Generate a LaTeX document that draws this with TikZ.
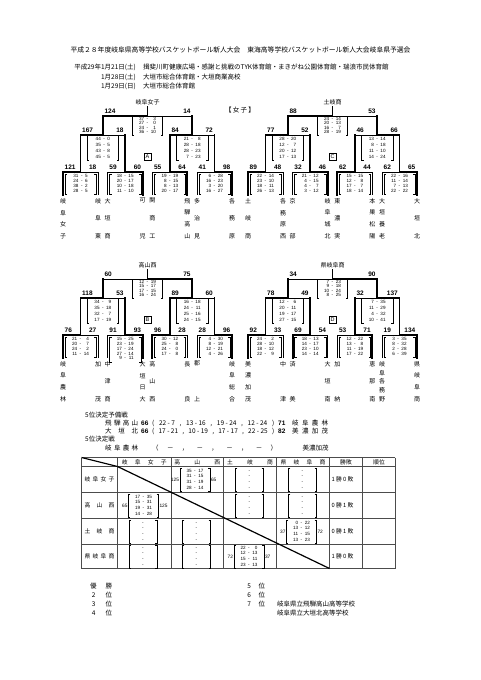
\documentclass[tikz,border=0pt]{standalone}
\usepackage{fontspec}
\setmainfont{Liberation Sans}
\newfontfamily\jp{Noto Sans CJK JP}
\usetikzlibrary{positioning}

% score block with square brackets
\newcommand{\scoreat}[4][score]{%
  \node[#1] (#2) at (#3) {\begin{tabular}{@{}r@{\hspace{2.5pt}-\hspace{2.5pt}}r@{}}#4\end{tabular}};
  \draw[brk] ([xshift=2pt]#2.north west) -| (#2.south west) -- ++(2pt,0)
             ([xshift=-2pt]#2.north east) -| (#2.south east) -- ++(-2pt,0);
}
% one game: winner half thick
\newcommand{\match}[5]{%
  \if#5L
    \draw[win] (#1,#3) -- ({(#1+#2)/2},#3);
    \draw[lose] ({(#1+#2)/2},#3) -- (#2,#3);
  \else
    \draw[lose] (#1,#3) -- ({(#1+#2)/2},#3);
    \draw[win] ({(#1+#2)/2},#3) -- (#2,#3);
  \fi
  \draw[win] ({(#1+#2)/2},#3) -- ({(#1+#2)/2},#4);
}
\newcommand{\legs}[3]{%
  \if#3L
    \draw[win] (#1,172) -- (#1,195); \draw[lose] (#2,172) -- (#2,195);
  \else
    \draw[lose] (#1,172) -- (#1,195); \draw[win] (#2,172) -- (#2,195);
  \fi
}
\newcommand{\drawbracket}[7]{%
  \legs{63}{98}{#1}\legs{107.7}{142.7}{#2}\legs{152.4}{187.4}{#3}\legs{197}{232}{#4}
  \match{63}{98}{172}{135}{#1}\match{107.7}{142.7}{172}{135}{#2}
  \match{152.4}{187.4}{172}{135}{#3}\match{197}{232}{172}{135}{#4}
  \match{80.5}{125.2}{135}{116}{#5}\match{169.9}{214.5}{135}{116}{#6}
  \match{102.85}{192.2}{116}{107}{#7}
}
\newcommand{\leaflabels}[9]{%
  \node[labl] (#1-n1) at (64.5,170) {#2};
  \node[labr] (#1-n2) at (96.5,170) {#3};
  \node[labl] (#1-n3) at (109.2,170) {#4};
  \node[labr] (#1-n4) at (141.2,170) {#5};
  \node[labl] (#1-n5) at (153.9,170) {#6};
  \node[labr] (#1-n6) at (185.9,170) {#7};
  \node[labl] (#1-n7) at (198.5,170) {#8};
  \node[labr] (#1-n8) at (230.5,170) {#9};
}
\newcommand{\upperlabels}[7]{%
  \node[labl] (#1-s1) at (82,133) {#2};
  \node[labr] (#1-s2) at (123.7,133) {#3};
  \node[labl] (#1-s3) at (171.4,133) {#4};
  \node[labr] (#1-s4) at (213,133) {#5};
  \node[labl] (#1-f1) at (104.4,114) {#6};
  \node[labr] (#1-f2) at (190.7,114) {#7};
}
% team name written top to bottom
\newcommand{\vname}[1]{\vbox to 40pt{\offinterlineskip
  \foreach \chr [count=\kk] in {#1}{\ifnum\kk>1 \vfill\fi\hbox to 7pt{\hss\chr\hss}}}}
\newcommand{\teams}[9]{%
  \node[team] (#1-t1) at (63,198) {\vname{#2}};
  \node[team] (#1-t2) at (98,198) {\vname{#3}};
  \node[team] (#1-t3) at (107.7,198) {\vname{#4}};
  \node[team] (#1-t4) at (142.7,198) {\vname{#5}};
  \node[team] (#1-t5) at (152.4,198) {\vname{#6}};
  \node[team] (#1-t6) at (187.4,198) {\vname{#7}};
  \node[team] (#1-t7) at (197,198) {\vname{#8}};
  \node[team] (#1-t8) at (232,198) {\vname{#9}};
}

\begin{document}
\begin{tikzpicture}[
    x=1pt, y=-1pt,
    win/.style={line width=1.9pt, line cap=rect},
    lose/.style={line width=0.7pt},
    brk/.style={line width=0.5pt},
    score/.style={inner xsep=0pt, inner ysep=0.3pt, minimum width=31pt,
        font=\fontsize{4.6}{4.8}\selectfont},
    scoreS/.style={score, font=\fontsize{4.6}{6}\selectfont},
    scoreF/.style={score, minimum width=30pt, font=\fontsize{4.6}{4.3}\selectfont},
    scoreT/.style={score, minimum width=30pt, font=\fontsize{4.6}{5.6}\selectfont},
    empty/.style={scoreT, minimum width=28pt},
    labl/.style={anchor=south west, inner sep=0pt, font=\bfseries\fontsize{6.5}{7}\selectfont},
    labr/.style={labl, anchor=south east},
    team/.style={anchor=north, inner sep=0pt, font=\jp\fontsize{6}{6}\selectfont},
    root/.style={anchor=south, inner sep=0pt, font=\jp\fontsize{6}{6}\selectfont},
    blk/.style={draw, line width=0.5pt, inner sep=0pt, minimum size=7pt,
        font=\fontsize{5.5}{5.5}\selectfont},
    txt/.style={anchor=west, inner sep=0pt, font=\jp\fontsize{6.5}{6.5}\selectfont},
    num/.style={anchor=west, inner sep=0pt, font=\bfseries\fontsize{6.5}{6.5}\selectfont},
    tline/.style={line width=0.9pt, black!70},
    diag/.style={line width=1.2pt},
    cell/.style={inner sep=0pt, font=\jp\fontsize{5.8}{5.8}\selectfont},
    tot/.style={inner sep=0.6pt, font=\fontsize{4.8}{4.8}\selectfont}
]
\path[fill=white] (0,0) rectangle (481,680);
\useasboundingbox (0,0) rectangle (481,680);

% Title
\node[txt, anchor=center, font=\jp\fontsize{6.8}{6.8}\selectfont] (title) at (240.5,50)
    {平成２８年度岐阜県高等学校バスケットボール新人大会　東海高等学校バスケットボール新人大会岐阜県予選会};
\node[txt, anchor=east] (d1) at (136,67) {平成29年1月21日(土)};
\node[txt, anchor=east] (d2) at (136,77) {1月28日(土)};
\node[txt, anchor=east] (d3) at (136,86) {1月29日(日)};
\node[txt] (v1) at (143,67) {揖斐川町健康広場・感謝と挑戦のTYK体育館・まきがね公園体育館・瑞浪市民体育館};
\node[txt] (v2) at (143,77) {大垣市総合体育館・大垣商業高校};
\node[txt] (v3) at (143,86) {大垣市総合体育館};
\node[txt, anchor=center] (girls) at (240,110) {\makebox[30pt]{【\hfill 女\hfill 子\hfill 】}};

% Block A
\drawbracket{L}{R}{R}{R}{L}{L}{L}
\node[root] (a-win) at (147.5,105.5) {岐阜女子};
\upperlabels{a}{167}{18}{84}{72}{124}{14}
\leaflabels{a}{121}{18}{59}{60}{55}{64}{41}{98}
\scoreat[scoreF]{a-f}{147.5,126}{37&3\\27&0\\24&1\\36&10}
\scoreat[scoreS]{a-s1}{102.85,148}{44&0\\35&5\\43&8\\45&5}
\scoreat[scoreS]{a-s2}{192.2,148}{21&8\\28&18\\28&23\\7&23}
\scoreat{a-p1}{80.5,184}{31&5\\24&6\\38&2\\28&5}
\scoreat{a-p2}{125.2,184}{18&15\\20&17\\10&18\\11&10}
\scoreat{a-p3}{169.9,184}{19&19\\8&15\\8&13\\20&17}
\scoreat{a-p4}{214.5,184}{6&28\\16&23\\3&20\\16&27}
\node[blk] (a-box) at (147.5,157) {A};
\teams{a}{岐,阜,女,子}{岐,阜,東}{大,垣,商}{可,児}{関,商,工}{飛,騨,高,山}{多,治,見}{各,務,原}

% Block C
\begin{scope}[shift={(185,0)}]
\drawbracket{L}{R}{L}{R}{L}{R}{L}
\node[root] (c-win) at (147.5,105.5) {土岐商};
\upperlabels{c}{77}{52}{46}{66}{88}{53}
\leaflabels{c}{89}{48}{32}{46}{62}{44}{62}{65}
\scoreat[scoreF]{c-f}{147.5,126}{24&14\\20&13\\16&7\\28&19}
\scoreat[scoreS]{c-s1}{102.85,148}{28&20\\12&7\\20&12\\17&13}
\scoreat[scoreS]{c-s2}{192.2,148}{13&14\\8&18\\11&10\\14&24}
\scoreat{c-p1}{80.5,184}{22&14\\23&10\\18&11\\26&13}
\scoreat{c-p2}{125.2,184}{21&12\\4&15\\4&7\\3&12}
\scoreat{c-p3}{169.9,184}{15&15\\12&8\\17&7\\18&14}
\scoreat{c-p4}{214.5,184}{22&16\\11&14\\7&13\\22&22}
\node[blk] (c-box) at (147.5,157) {C};
\teams{c}{土,岐,商}{各,務,原,西}{京,部}{岐,阜,城,北}{東,濃,実}{本,巣,松,陽}{大,垣,養,老}{大,垣,北}
\end{scope}

% Block B
\begin{scope}[shift={(0,163)}]
\drawbracket{L}{R}{L}{R}{L}{L}{R}
\node[root] (b-win) at (147.5,105.5) {高山西};
\upperlabels{b}{118}{53}{89}{60}{60}{75}
\leaflabels{b}{76}{27}{91}{93}{96}{28}{28}{96}
\scoreat[scoreF]{b-f}{147.5,126}{12&19\\15&17\\17&15\\16&24}
\scoreat[scoreS]{b-s1}{102.85,148}{34&9\\35&18\\32&7\\17&19}
\scoreat[scoreS]{b-s2}{192.2,148}{16&18\\24&11\\25&16\\24&15}
\scoreat{b-p1}{80.5,184}{21&4\\20&7\\24&2\\11&14}
\scoreat{b-p2}{125.2,186.3}{15&25\\23&19\\17&24\\27&14\\9&11}
\scoreat{b-p3}{169.9,184}{30&12\\25&8\\24&0\\17&8}
\scoreat{b-p4}{214.5,184}{4&30\\8&19\\12&21\\4&26}
\node[blk] (b-box) at (147.5,157) {B};
\teams{b}{岐,阜,農,林}{加,茂}{中,津,商}{大,垣,日,大}{高,山,西}{長,良}{郡,上}{岐,阜,総,合}
\end{scope}

% Block D
\begin{scope}[shift={(185,163)}]
\drawbracket{L}{L}{R}{R}{L}{R}{R}
\node[root] (d-win) at (147.5,105.5) {県岐阜商};
\upperlabels{d}{78}{49}{32}{137}{34}{90}
\leaflabels{d}{92}{33}{69}{54}{53}{71}{19}{134}
\scoreat[scoreF]{d-f}{147.5,126}{7&23\\9&18\\10&24\\8&25}
\scoreat[scoreS]{d-s1}{102.85,148}{12&6\\20&11\\19&17\\27&15}
\scoreat[scoreS]{d-s2}{192.2,148}{7&35\\11&29\\4&32\\10&41}
\scoreat{d-p1}{80.5,184}{24&2\\28&10\\18&12\\22&9}
\scoreat{d-p2}{125.2,184}{18&13\\14&17\\23&10\\14&14}
\scoreat{d-p3}{169.9,184}{12&22\\13&8\\11&19\\17&22}
\scoreat{d-p4}{214.5,184}{3&35\\8&32\\2&28\\6&39}
\node[blk] (d-box) at (147.5,157) {D};
\teams{d}{美,濃,加,茂}{中,津}{済,美}{大,垣,南}{加,納}{恵,那,南}{岐,阜,各,務,野}{県,岐,阜,商}
\end{scope}

% 5th place games
\node[txt] (q-head) at (85,415) {5位決定予備戦};
\node[txt] (q1-a) at (105,423) {\makebox[33pt]{飛\hfill 騨\hfill 高\hfill 山}};
\node[num] (q1-sa) at (141,423) {66};
\node[txt] (q1-g) at (152,423) {\makebox[122pt]{(\hfill 22 - 7\hfill ,\hfill 13 - 16\hfill ,\hfill 19 - 24\hfill ,\hfill 12 - 24\hfill )}};
\node[num] (q1-sb) at (278,423) {71};
\node[txt] (q1-b) at (292,423) {\makebox[36pt]{岐\hfill 阜\hfill 農\hfill 林}};
\node[txt] (q2-a) at (105,431) {\makebox[33pt]{大\hfill 垣\hfill 北}};
\node[num] (q2-sa) at (141,431) {66};
\node[txt] (q2-g) at (152,431) {\makebox[122pt]{(\hfill 17 - 21\hfill ,\hfill 10 - 19\hfill ,\hfill 17 - 17\hfill ,\hfill 22 - 25\hfill )}};
\node[num] (q2-sb) at (278,431) {82};
\node[txt] (q2-b) at (292,431) {\makebox[36pt]{美\hfill 濃\hfill 加\hfill 茂}};
\node[txt] (q-head2) at (85,439) {5位決定戦};
\node[txt] (q3-a) at (105,448) {\makebox[33pt]{岐\hfill 阜\hfill 農\hfill 林}};
\node[txt] (q3-g) at (152,448) {\makebox[125pt]{（\hfill －\hfill ，\hfill －\hfill ，\hfill －\hfill ，\hfill －\hfill ）}};
\node[txt] (q3-b) at (303,448) {\makebox[25pt]{美\hfill 濃\hfill 加\hfill 茂}};

% League table
\foreach \x in {81.5,117.5,171,223.5,276.5,329.5,362.5,395}
    \draw[tline] (\x,457.5) -- (\x,568.5);
\foreach \y in {457.5,466.5,492.5,518.5,544.5,568.5}
    \draw[tline] (81.5,\y) -- (395,\y);
\draw[diag] (81.5,457.5) -- (117.5,466.5);
\draw[diag] (117.5,466.5) -- (329.5,568.5);

\node[cell] (h1) at (144.25,462) {\makebox[45pt]{岐\hfill 阜\hfill 女\hfill 子}};
\node[cell] (h2) at (197.25,462) {\makebox[46pt]{高\hfill 山\hfill 西}};
\node[cell] (h3) at (250,462) {\makebox[46pt]{土\hfill 岐\hfill 商}};
\node[cell] (h4) at (303,462) {\makebox[45pt]{県\hfill 岐\hfill 阜\hfill 商}};
\node[cell] (h5) at (346,462) {勝敗};
\node[cell] (h6) at (379,462) {順位};
\node[cell] (r1) at (99.5,479.5) {\makebox[30pt]{岐\hfill 阜\hfill 女\hfill 子}};
\node[cell] (r2) at (99.5,505.5) {\makebox[30pt]{高\hfill 山\hfill 西}};
\node[cell] (r3) at (99.5,531.5) {\makebox[30pt]{土\hfill 岐\hfill 商}};
\node[cell] (r4) at (99.5,556.5) {\makebox[30pt]{県\hfill 岐\hfill 阜\hfill 商}};

\scoreat[scoreT]{c12}{195,479.5}{35&17\\31&15\\31&19\\28&14}
\node[tot, left=0pt of c12] (c12l) {125};
\node[tot, right=0pt of c12] (c12r) {65};
\scoreat[scoreT]{c21}{143.5,505.5}{17&35\\15&31\\19&31\\14&28}
\node[tot, left=0pt of c21] (c21l) {65};
\node[tot, right=0pt of c21] (c21r) {125};
\scoreat[scoreT]{c34}{301.5,531.5}{0&22\\13&12\\11&15\\13&23}
\node[tot, left=0pt of c34] (c34l) {37};
\node[tot, right=0pt of c34] (c34r) {72};
\scoreat[scoreT]{c43}{249,556.5}{22&0\\12&13\\15&11\\23&13}
\node[tot, left=0pt of c43] (c43l) {72};
\node[tot, right=0pt of c43] (c43r) {37};
\scoreat[empty]{c13}{249.5,479.5}{&\\&\\&\\&}
\scoreat[empty]{c14}{302.5,479.5}{&\\&\\&\\&}
\scoreat[empty]{c23}{249.5,505.5}{&\\&\\&\\&}
\scoreat[empty]{c24}{302.5,505.5}{&\\&\\&\\&}
\scoreat[empty]{c31}{143,531.5}{&\\&\\&\\&}
\scoreat[empty]{c32}{196.5,531.5}{&\\&\\&\\&}
\scoreat[empty]{c41}{143,556.5}{&\\&\\&\\&}
\scoreat[empty]{c42}{196.5,556.5}{&\\&\\&\\&}

\node[cell] (w1) at (342.5,479.5) {1 勝 0 敗};
\node[cell] (w2) at (342.5,505.5) {0 勝 1 敗};
\node[cell] (w3) at (342.5,531.5) {0 勝 1 敗};
\node[cell] (w4) at (342.5,556.5) {1 勝 0 敗};

% Final standings
\node[txt] (rk1) at (90,586) {\makebox[22pt]{優\hfill 勝}};
\node[txt] (rk2) at (90,595) {\makebox[22pt]{\makebox[7pt]{2}\hfill 位}};
\node[txt] (rk3) at (90,604) {\makebox[22pt]{\makebox[7pt]{3}\hfill 位}};
\node[txt] (rk4) at (90,613) {\makebox[22pt]{\makebox[7pt]{4}\hfill 位}};
\node[txt] (rk5) at (246,586) {\makebox[19pt]{\makebox[6pt]{5}\hfill 位}};
\node[txt] (rk6) at (246,595) {\makebox[19pt]{\makebox[6pt]{6}\hfill 位}};
\node[txt] (rk7) at (246,604) {\makebox[19pt]{\makebox[6pt]{7}\hfill 位}};
\node[txt] (rk7a) at (277,604) {岐阜県立飛騨高山高等学校};
\node[txt] (rk7b) at (277,613) {岐阜県立大垣北高等学校};

\end{tikzpicture}
\end{document}
